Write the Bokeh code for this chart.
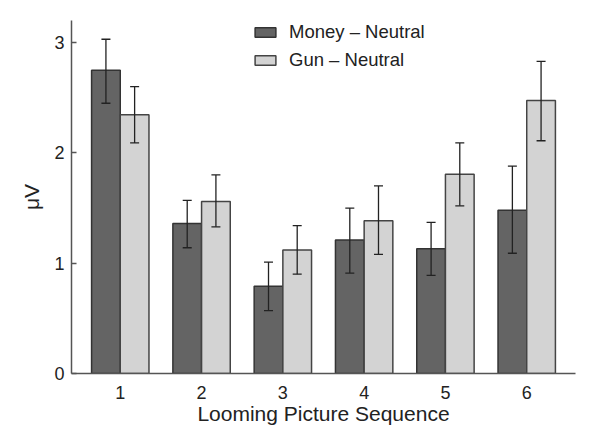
from bokeh.plotting import figure
from bokeh.models import ColumnDataSource, Whisker, TeeHead, Legend, LegendItem, FixedTicker, Range1d
from bokeh.embed import file_html
from bokeh.resources import INLINE

sequences = [1, 2, 3, 4, 5, 6]
money_mean = [2.75, 1.36, 0.79, 1.21, 1.13, 1.48]
money_upper = [3.03, 1.57, 1.01, 1.50, 1.37, 1.88]
money_lower = [2.45, 1.14, 0.57, 0.91, 0.89, 1.09]
gun_mean = [2.345, 1.56, 1.12, 1.385, 1.807, 2.475]
gun_upper = [2.60, 1.80, 1.34, 1.70, 2.09, 2.83]
gun_lower = [2.09, 1.33, 0.90, 1.08, 1.52, 2.11]
series_labels = ["Money \u2013 Neutral", "Gun \u2013 Neutral"]
y_ticks = [0, 1, 2, 3]

FONT = "Liberation Sans"
W = 0.353

p = figure(width=592, height=427, output_backend="svg", toolbar_location=None,
           x_range=Range1d(0.4, 6.6), y_range=Range1d(0, 3.2),
           min_border_left=71, min_border_right=17, min_border_top=20, min_border_bottom=54)
p.outline_line_color = None
p.xgrid.visible = False
p.ygrid.visible = False

src_m = ColumnDataSource(dict(x=[s - W / 2 for s in sequences], top=money_mean, up=money_upper, lo=money_lower))
src_g = ColumnDataSource(dict(x=[s + W / 2 for s in sequences], top=gun_mean, up=gun_upper, lo=gun_lower))

r1 = p.vbar(x="x", top="top", width=W, source=src_m, fill_color="#646464", line_color="#333333", line_width=1.5)
r2 = p.vbar(x="x", top="top", width=W, source=src_g, fill_color="#d3d3d3", line_color="#444444", line_width=1.5)

for src in (src_m, src_g):
    w = Whisker(base="x", upper="up", lower="lo", source=src, line_color="#222222", line_width=1.3,
                level="overlay",
                upper_head=TeeHead(size=9, line_color="#222222", line_width=1.3),
                lower_head=TeeHead(size=9, line_color="#222222", line_width=1.3))
    p.add_layout(w)

# axes
for ax in (p.xaxis[0], p.yaxis[0]):
    ax.axis_line_color = "#555555"
    ax.axis_line_width = 1.5
    ax.major_label_text_font = FONT
    ax.major_label_text_font_size = "18px"
    ax.major_label_text_color = "#222222"
    ax.axis_label_text_font = FONT
    ax.axis_label_text_font_style = "normal"
    ax.axis_label_text_font_size = "21px"
    ax.axis_label_text_color = "#222222"
    ax.minor_tick_line_color = None

p.xaxis.ticker = FixedTicker(ticks=sequences)
p.xaxis.major_tick_line_color = None
p.xaxis.major_label_standoff = 6
p.xaxis.axis_label = "Looming Picture Sequence"
p.xaxis.axis_label_standoff = 0

p.yaxis.ticker = FixedTicker(ticks=y_ticks)
p.yaxis.major_tick_in = 5
p.yaxis.major_tick_out = 0
p.yaxis.major_tick_line_color = "#555555"
p.yaxis.major_tick_line_width = 1.5
p.yaxis.major_label_standoff = 7
p.yaxis.axis_label = "\u03bcV"
p.yaxis.axis_label_standoff = 8

legend = Legend(items=[LegendItem(label=series_labels[0], renderers=[r1]),
                       LegendItem(label=series_labels[1], renderers=[r2])],
                location=(181, 302), orientation="vertical")
legend.glyph_width = 26
legend.glyph_height = 12
legend.label_height = 22
legend.label_standoff = 11
legend.label_text_font = FONT
legend.label_text_font_size = "18.5px"
legend.label_text_color = "#222222"
legend.spacing = 6
legend.padding = 0
legend.margin = 0
legend.border_line_color = None
legend.background_fill_alpha = 0
p.add_layout(legend)

open("out.html", "w").write(file_html(p, INLINE))
